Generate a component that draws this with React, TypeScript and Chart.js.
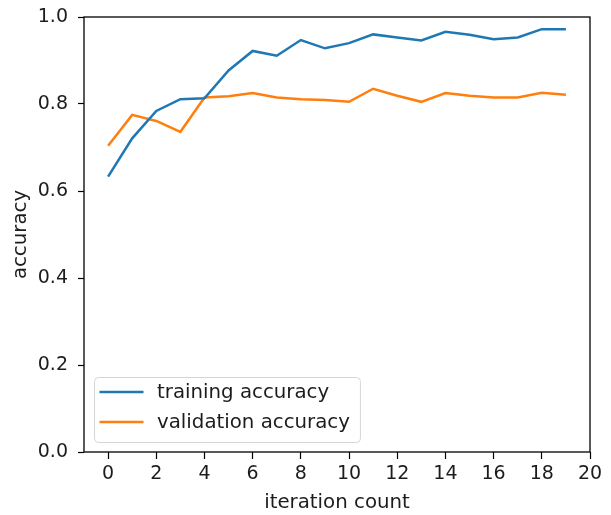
import { useEffect, useRef } from 'react';
import { Chart, registerables } from 'chart.js';

Chart.register(...registerables);

const iterations = [0, 1, 2, 3, 4, 5, 6, 7, 8, 9, 10, 11, 12, 13, 14, 15, 16, 17, 18, 19];
const trainingAccuracy = [0.633, 0.721, 0.784, 0.811, 0.813, 0.877, 0.922, 0.911, 0.947, 0.928, 0.940, 0.960, 0.953, 0.946, 0.966, 0.959, 0.949, 0.953, 0.972, 0.972];
const validationAccuracy = [0.704, 0.775, 0.761, 0.736, 0.815, 0.818, 0.825, 0.815, 0.811, 0.809, 0.805, 0.835, 0.819, 0.805, 0.825, 0.819, 0.815, 0.815, 0.826, 0.821];
const xTicks = [0, 2, 4, 6, 8, 10, 12, 14, 16, 18, 20];
const yTicks = [0, 0.2, 0.4, 0.6, 0.8, 1.0];
const seriesLabels = ['training accuracy', 'validation accuracy'];
const seriesColors = ['#1f77b4', '#ff7f0e'];

const W = 611;
const H = 515;
const FONT = 'DejaVu Sans';
const TEXT = '#1c1c1c';

const framePlugin = {
  id: 'mplFrame',
  afterDatasetsDraw(chart: any) {
    const { ctx, chartArea } = chart;
    ctx.save();
    ctx.strokeStyle = '#000';
    ctx.lineWidth = 1.3;
    ctx.strokeRect(chartArea.left, chartArea.top, chartArea.right - chartArea.left, chartArea.bottom - chartArea.top);
    ctx.restore();
  },
};

const legendPlugin = {
  id: 'mplLegend',
  afterDatasetsDraw(chart: any) {
    const { ctx, chartArea } = chart;
    const ds = chart.data.datasets;
    ctx.save();
    ctx.font = `19.8px "${FONT}"`;
    const textW = Math.max(...ds.map((d: any) => ctx.measureText(d.label).width));
    const rowH = 30;
    const boxW = 63 + textW + 10;
    const boxH = rowH * ds.length + 5;
    const left = chartArea.left + 10;
    const top = chartArea.bottom - 10 - boxH;
    ctx.beginPath();
    (ctx as any).roundRect(left + 0.5, top + 0.5, boxW, boxH, 4);
    ctx.fillStyle = 'rgba(255,255,255,0.8)';
    ctx.fill();
    ctx.strokeStyle = 'rgba(204,204,204,0.8)';
    ctx.lineWidth = 1;
    ctx.stroke();
    ds.forEach((d: any, i: number) => {
      const y = top + 15 + i * rowH;
      ctx.beginPath();
      ctx.moveTo(left + 5.5, y);
      ctx.lineTo(left + 49.5, y);
      ctx.strokeStyle = d.borderColor;
      ctx.lineWidth = d.borderWidth;
      ctx.stroke();
      ctx.fillStyle = TEXT;
      ctx.textAlign = 'left';
      ctx.textBaseline = 'middle';
      ctx.fillText(d.label, left + 63, y + 1);
    });
    ctx.restore();
  },
};

export default function App() {
  const ref = useRef<HTMLCanvasElement>(null);

  useEffect(() => {
    if (!ref.current) return;
    const tickFont = { family: FONT, size: 19 };
    const titleFont = { family: FONT, size: 19.8 };
    const chart = new Chart(ref.current, {
      type: 'line',
      data: {
        datasets: [
          {
            label: seriesLabels[0],
            data: iterations.map((x, i) => ({ x, y: trainingAccuracy[i] })),
            borderColor: seriesColors[0],
            backgroundColor: seriesColors[0],
            borderWidth: 2.5,
            pointRadius: 0,
            tension: 0,
            fill: false,
          },
          {
            label: seriesLabels[1],
            data: iterations.map((x, i) => ({ x, y: validationAccuracy[i] })),
            borderColor: seriesColors[1],
            backgroundColor: seriesColors[1],
            borderWidth: 2.5,
            pointRadius: 0,
            tension: 0,
            fill: false,
          },
        ],
      },
      options: {
        responsive: false,
        animation: false,
        devicePixelRatio: 1,
        layout: { padding: { top: 17, right: 21, left: 0, bottom: 0 } },
        plugins: {
          legend: { display: false },
          tooltip: { enabled: false },
        },
        scales: {
          x: {
            type: 'linear',
            min: -1,
            max: 20,
            afterBuildTicks: (s: any) => {
              s.ticks = xTicks.map((v) => ({ value: v }));
            },
            afterFit: (s: any) => {
              s.height = H - 452;
              s.paddingLeft = 0;
              s.paddingRight = 0;
            },
            ticks: {
              font: tickFont,
              color: TEXT,
              padding: 4,
              maxRotation: 0,
              autoSkip: false,
              callback: (v: any) => String(v),
            },
            grid: {
              drawOnChartArea: false,
              drawTicks: true,
              tickLength: 7,
              tickColor: '#000',
              tickWidth: 1.2,
            },
            border: { display: false },
            title: {
              display: true,
              text: 'iteration count',
              font: titleFont,
              color: TEXT,
              padding: { top: 0, bottom: 0 },
            },
          },
          y: {
            type: 'linear',
            min: 0,
            max: 1,
            afterBuildTicks: (s: any) => {
              s.ticks = yTicks.map((v) => ({ value: v }));
            },
            afterFit: (s: any) => {
              s.width = 84;
              s.paddingTop = 0;
              s.paddingBottom = 0;
            },
            ticks: {
              font: tickFont,
              color: TEXT,
              padding: 10,
              callback: (v: any) => Number(v).toFixed(1),
            },
            grid: {
              drawOnChartArea: false,
              drawTicks: true,
              tickLength: 6,
              tickColor: '#000',
              tickWidth: 1.2,
            },
            border: { display: false },
            title: {
              display: true,
              text: 'accuracy',
              font: titleFont,
              color: TEXT,
              padding: { top: 9, bottom: 0 },
            },
          },
        },
      } as any,
      plugins: [framePlugin, legendPlugin],
    });
    return () => chart.destroy();
  }, []);

  return (
    <div style={{ position: 'absolute', left: 0, top: 0, width: W, height: H, background: '#fff' }}>
      <canvas ref={ref} width={W} height={H} style={{ display: 'block', width: W, height: H }} />
    </div>
  );
}
